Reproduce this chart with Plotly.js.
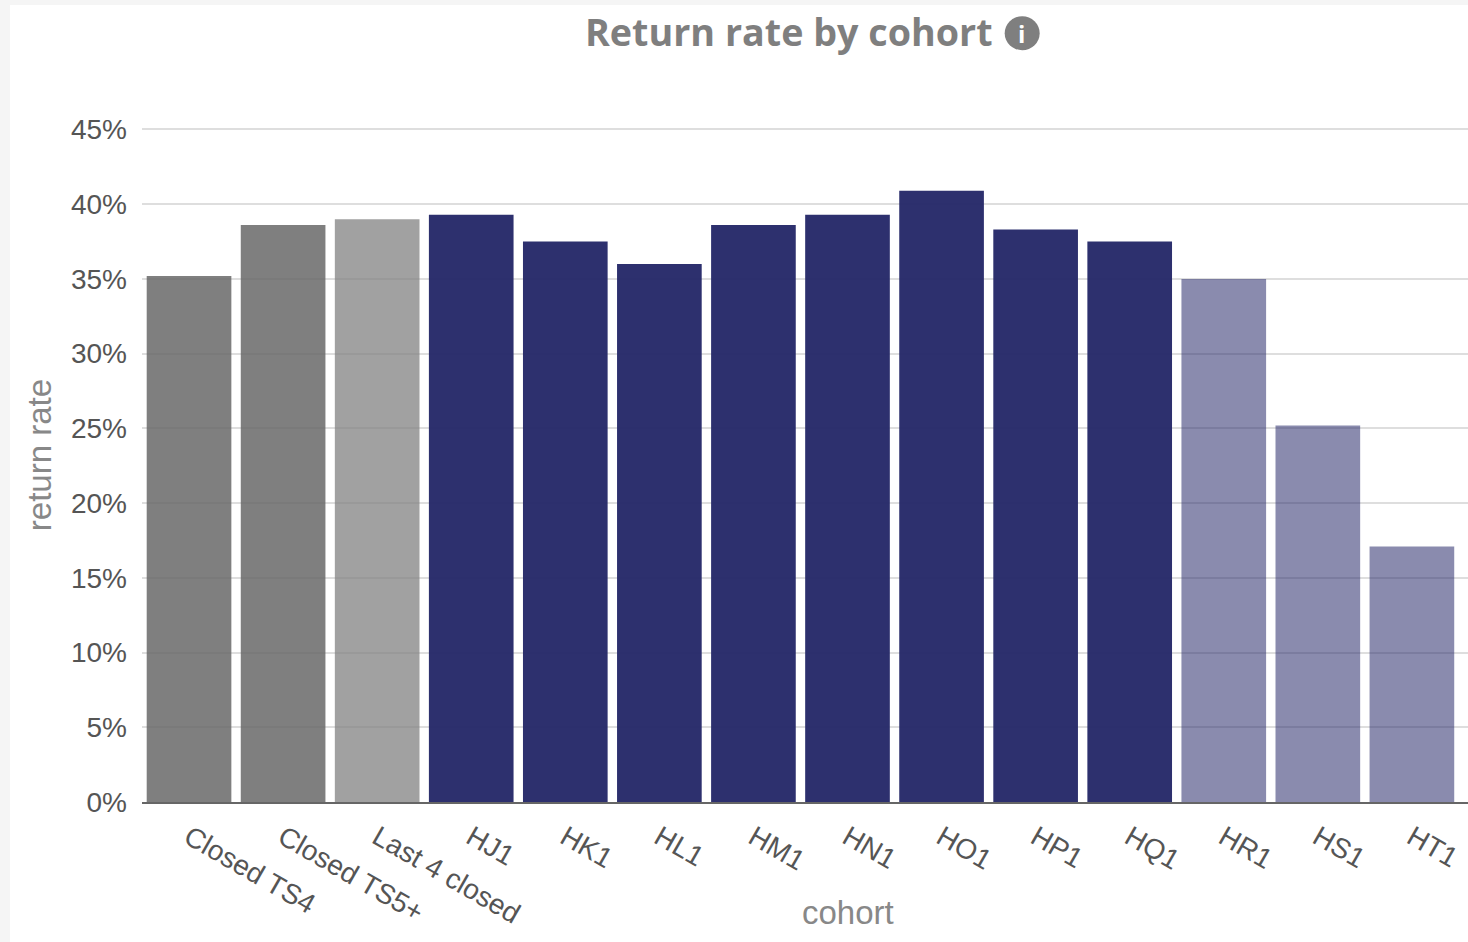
<!DOCTYPE html>
<html><head><meta charset="utf-8">
<script src="https://cdn.plot.ly/plotly-3.0.1.min.js"></script>
<style>
html,body{margin:0;padding:0;width:1468px;height:942px;overflow:hidden;background:#f5f5f5}
#wrap{position:absolute;left:10px;top:5px;width:1458px;height:937px;overflow:hidden;background:#fff}
#chart{width:1600px;height:937px}
</style></head><body>
<div id="wrap"><div id="chart"></div></div>
<script>
const categories=["Closed TS4","Closed TS5+","Last 4 closed","HJ1","HK1","HL1","HM1","HN1","HO1","HP1","HQ1","HR1","HS1","HT1"];
const returnRate=[35.2,38.6,39.0,39.3,37.5,36.0,38.6,39.3,40.9,38.3,37.5,35.0,25.2,17.1];
const barColors=["rgba(104,104,104,.85)","rgba(104,104,104,.85)","rgba(130,130,130,.75)",
"rgba(38,41,105,.97)","rgba(38,41,105,.97)","rgba(38,41,105,.97)","rgba(38,41,105,.97)","rgba(38,41,105,.97)","rgba(38,41,105,.97)","rgba(38,41,105,.97)","rgba(38,41,105,.97)",
"rgba(38,41,105,.54)","rgba(38,41,105,.54)","rgba(38,41,105,.54)"];
const yTicks=[0,5,10,15,20,25,30,35,40,45];
const L=132,T=116.8,W=1411.5,H=680.2,W0=1600,H0=937;
const px=x=>(x-10-L)/W, py=y=>1-(y-5-T)/H;
const textFont="Liberation Sans, Arial, sans-serif";
Plotly.newPlot("chart",[{type:"bar",x:categories,y:returnRate,marker:{color:barColors,line:{width:0}},hoverinfo:"x+y"}],{
 width:W0,height:H0,margin:{l:L,t:T,r:W0-L-W,b:H0-T-H,autoexpand:false},
 paper_bgcolor:"rgba(0,0,0,0)",plot_bgcolor:"rgba(0,0,0,0)",bargap:0.1,showlegend:false,
 title:{text:"Return rate by cohort",font:{family:"Open Sans, sans-serif",size:37.7,weight:700,color:"#7f7f7f"},xref:"paper",x:px(789),xanchor:"center",yref:"container",y:1-(28)/H0,yanchor:"middle"},
 xaxis:{type:"category",range:[-0.5,14.5],tickangle:30,ticks:"",tickfont:{family:textFont,size:28,color:"#555"},ticklabelstandoff:6,showgrid:false,showline:true,linecolor:"#666",linewidth:2,zeroline:false,automargin:false},
 yaxis:{range:[0,45.5],tickmode:"array",tickvals:yTicks,ticktext:yTicks.map(v=>v+"%"),ticks:"",tickfont:{family:textFont,size:28,color:"#555"},ticklabelstandoff:14,gridcolor:"#dedede",gridwidth:2,zeroline:false,automargin:false},
 shapes:[{type:"circle",xref:"paper",yref:"paper",x0:px(1005),x1:px(1040),y0:py(50),y1:py(16),fillcolor:"#7f7f7f",line:{width:0},layer:"above"}],
 annotations:[
  {xref:"paper",yref:"paper",x:px(1022),y:py(33),text:"<b>i</b>",showarrow:false,font:{family:"Open Sans, sans-serif",size:24,color:"#fff"},xanchor:"center",yanchor:"middle"},
  {xref:"paper",yref:"paper",x:px(848),y:py(913),text:"cohort",showarrow:false,font:{family:textFont,size:33,color:"#888"},xanchor:"center",yanchor:"middle"},
  {xref:"paper",yref:"paper",x:px(39),y:py(455),text:"return rate",textangle:-90,showarrow:false,font:{family:textFont,size:33,color:"#888"},xanchor:"center",yanchor:"middle"}
 ]
},{displayModeBar:false,staticPlot:true});
</script></body></html>
